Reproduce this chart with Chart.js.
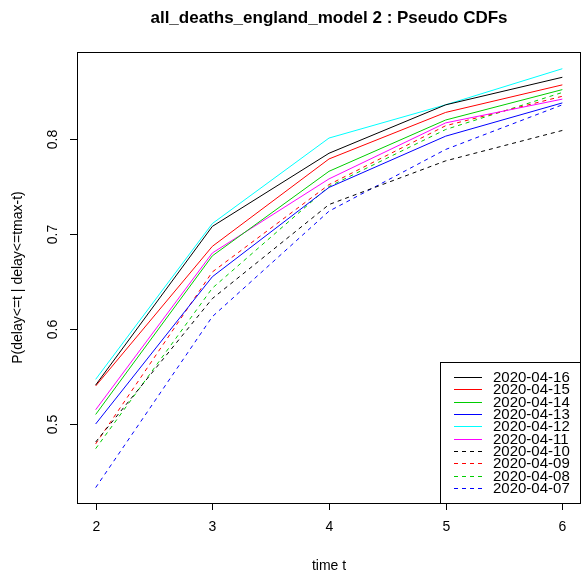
<!DOCTYPE html>
<html>
<head>
<meta charset="utf-8">
<script src="https://cdn.jsdelivr.net/npm/chart.js@4"></script>
<style>
  html, body { margin: 0; padding: 0; background: #fff; }
  #wrap { width: 581px; height: 585px; }
</style>
</head>
<body>
<div id="wrap"><canvas id="cdfChart" width="581" height="585"></canvas></div>
<script>
const times = [2, 3, 4, 5, 6];
const xTicks = [2, 3, 4, 5, 6];
const yTicks = [0.5, 0.6, 0.7, 0.8];

const seriesLabels = ["2020-04-16", "2020-04-15", "2020-04-14", "2020-04-13", "2020-04-12",
  "2020-04-11", "2020-04-10", "2020-04-09", "2020-04-08", "2020-04-07"];

const d0416 = [0.541, 0.708, 0.785, 0.836, 0.865];
const d0415 = [0.540, 0.687, 0.779, 0.828, 0.857];
const d0414 = [0.510, 0.677, 0.766, 0.820, 0.852];
const d0413 = [0.500, 0.655, 0.749, 0.803, 0.838];
const d0412 = [0.547, 0.711, 0.801, 0.836, 0.874];
const d0411 = [0.515, 0.680, 0.758, 0.817, 0.842];
const d0410 = [0.481, 0.632, 0.731, 0.777, 0.809];
const d0409 = [0.479, 0.660, 0.752, 0.814, 0.845];
const d0408 = [0.474, 0.643, 0.750, 0.810, 0.849];
const d0407 = [0.433, 0.613, 0.724, 0.789, 0.836];

const seriesValues = [d0416, d0415, d0414, d0413, d0412, d0411, d0410, d0409, d0408, d0407];
const seriesColors = ["#000000", "#ff0000", "#00cd00", "#0000ff", "#00ffff", "#ff00ff",
  "#000000", "#ff0000", "#00cd00", "#0000ff"];
const seriesDashed = [false, false, false, false, false, false, true, true, true, true];

const FONT = "'Liberation Sans', Arial, Helvetica, sans-serif";
const TITLE = "all_deaths_england_model 2 : Pseudo CDFs";

// box, ticks, rotated y labels, titles and the legend, R style
const rFrame = {
  id: "rFrame",
  afterDraw(chart) {
    const ctx = chart.ctx;
    const a = chart.chartArea;
    const xs = chart.scales.x;
    const ys = chart.scales.y;
    ctx.save();
    ctx.strokeStyle = "#000";
    ctx.lineWidth = 1;
    ctx.strokeRect(a.left + 0.5, a.top + 0.5, a.right - a.left - 1, a.bottom - a.top);

    ctx.fillStyle = "#000";
    ctx.textAlign = "center";
    ctx.textBaseline = "middle";
    ctx.font = "bold 17px " + FONT;
    ctx.fillText(TITLE, (a.left + a.right) / 2, 18);

    ctx.font = "14px " + FONT;
    xTicks.forEach(t => {
      const px = Math.round(xs.getPixelForValue(t)) + 0.5;
      ctx.beginPath();
      ctx.moveTo(px, a.bottom);
      ctx.lineTo(px, a.bottom + 7);
      ctx.stroke();
      ctx.fillText(String(t), px, a.bottom + 24);
    });
    yTicks.forEach(t => {
      const py = Math.round(ys.getPixelForValue(t)) + 0.5;
      ctx.beginPath();
      ctx.moveTo(a.left, py);
      ctx.lineTo(a.left - 7, py);
      ctx.stroke();
      ctx.save();
      ctx.translate(a.left - 24, py);
      ctx.rotate(-Math.PI / 2);
      ctx.fillText(t.toFixed(1), 0, 0);
      ctx.restore();
    });

    ctx.fillText("time t", (a.left + a.right) / 2, a.bottom + 63);
    ctx.save();
    ctx.translate(18, (a.top + a.bottom) / 2);
    ctx.rotate(-Math.PI / 2);
    ctx.fillText("P(delay<=t | delay<=tmax-t)", 0, 0);
    ctx.restore();

    // legend
    const lx = 440.5, ly = 362.5, lw = 140, lh = a.bottom - 362;
    ctx.fillStyle = "#fff";
    ctx.fillRect(lx, ly, lw, lh);
    ctx.strokeRect(lx, ly, lw, lh);
    ctx.font = "15px " + FONT;
    ctx.textAlign = "left";
    chart.data.datasets.forEach((ds, i) => {
      const cy = 377 + i * 12.33;
      ctx.strokeStyle = ds.borderColor;
      ctx.setLineDash(ds.borderDash || []);
      ctx.beginPath();
      ctx.moveTo(454, Math.round(cy) + 0.5);
      ctx.lineTo(482, Math.round(cy) + 0.5);
      ctx.stroke();
      ctx.setLineDash([]);
      ctx.fillStyle = "#000";
      ctx.fillText(ds.label, 493, cy + 1);
    });
    ctx.restore();
  }
};

const datasets = seriesLabels.map((lab, i) => ({
  label: lab,
  data: times.map((t, j) => ({ x: t, y: seriesValues[i][j] })),
  borderColor: seriesColors[i],
  backgroundColor: seriesColors[i],
  borderWidth: 1,
  borderDash: seriesDashed[i] ? [4, 4] : [],
  pointRadius: 0,
  tension: 0,
  fill: false,
}));

new Chart(document.getElementById("cdfChart"), {
  type: "line",
  data: { datasets: datasets },
  options: {
    responsive: false,
    animation: false,
    devicePixelRatio: 1,
    layout: { padding: { left: 0, right: 0, top: 52, bottom: 0 } },
    plugins: {
      legend: { display: false },
      tooltip: { enabled: false },
      title: { display: false },
    },
    scales: {
      x: {
        type: "linear",
        min: 1.84,
        max: 6.16,
        grid: { display: false },
        border: { display: false },
        ticks: { display: false },
        afterFit: s => { s.height = 82; },
      },
      y: {
        type: "linear",
        min: 0.4168,
        max: 0.8916,
        grid: { display: false },
        border: { display: false },
        ticks: { display: false },
        afterFit: s => { s.width = 77; },
      },
    },
  },
  plugins: [rFrame],
});
</script>
</body>
</html>
